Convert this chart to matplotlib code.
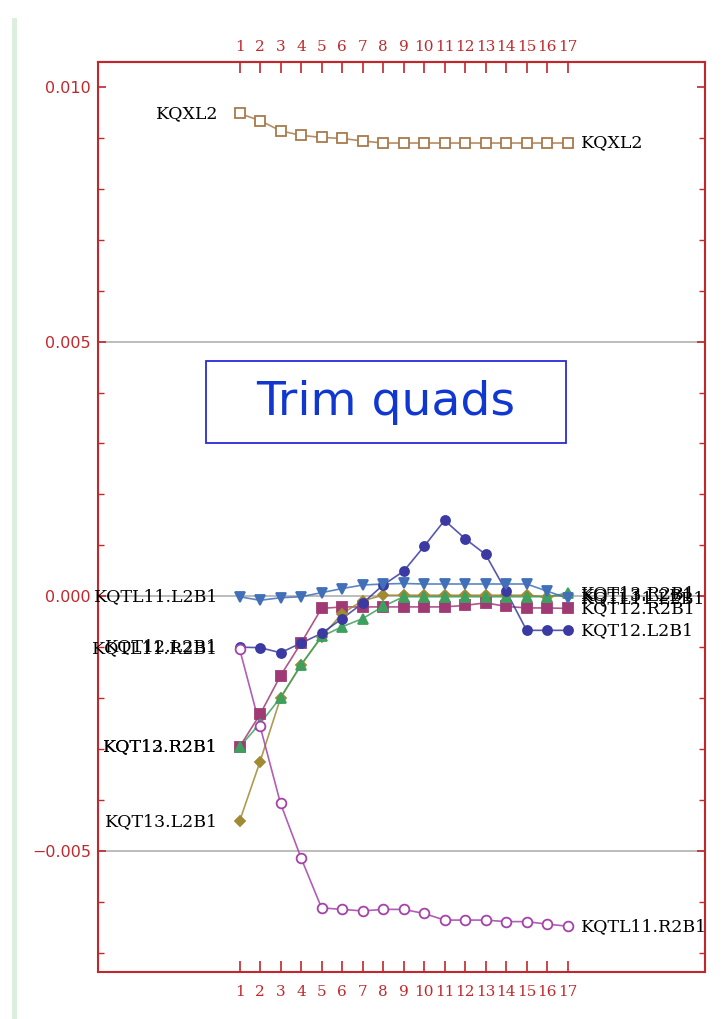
import matplotlib.pyplot as plt
import matplotlib.patches as mpatches
from matplotlib.ticker import MultipleLocator, FixedLocator

# iteration steps
steps = list(range(1, 18))

# quad strengths per step
kqxl2 = [0.00948, 0.00934, 0.00914, 0.00905, 0.00901, 0.00899, 0.00894, 0.00890, 0.00890,
         0.00890, 0.00890, 0.00890, 0.00890, 0.00890, 0.00890, 0.00890, 0.00890]
kqt12_r2b1 = [-0.00296, -0.00232, -0.00156, -0.00092, -0.00024, -0.00021, -0.00021, -0.00021, -0.00021,
              -0.00021, -0.00021, -0.00018, -0.00013, -0.00020, -0.00023, -0.00023, -0.00024]
kqt13_l2b1 = [-0.00442, -0.00325, -0.00200, -0.00135, -0.00080, -0.00034, -0.00009, 0.00002, 0.00002,
              0.00002, 0.00002, 0.00002, 0.00002, 0.00002, 0.00002, -0.00001, 0.00002]
kqt13_r2b1 = [-0.00296, -0.00250, -0.00199, -0.00135, -0.00079, -0.00060, -0.00044, -0.00020, -0.00001,
              -0.00001, -0.00001, -0.00001, -0.00001, -0.00001, -0.00001, -0.00001, 0.00006]
kqt12_l2b1 = [-0.00100, -0.00101, -0.00111, -0.00092, -0.00073, -0.00044, -0.00014, 0.00022, 0.00049,
              0.00098, 0.00149, 0.00113, 0.00082, 0.00010, -0.00067, -0.00067, -0.00067]
kqtl11_l2b1 = [-0.00001, -0.00008, -0.00003, -0.00001, 0.00007, 0.00015, 0.00022, 0.00024, 0.00025,
               0.00024, 0.00024, 0.00024, 0.00024, 0.00024, 0.00024, 0.00010, -0.00004]
kqtl11_r2b1 = [-0.00103, -0.00255, -0.00407, -0.00514, -0.00612, -0.00615, -0.00618, -0.00615, -0.00615,
               -0.00623, -0.00636, -0.00636, -0.00636, -0.00639, -0.00639, -0.00644, -0.00648]

series = [
    ("KQXL2", kqxl2, "#a87a4c", "s", True, 6.5),
    ("KQT12.R2B1", kqt12_r2b1, "#a03a74", "s", False, 6.5),
    ("KQT13.L2B1", kqt13_l2b1, "#a08a34", "D", False, 5.5),
    ("KQT13.R2B1", kqt13_r2b1, "#3ea05e", "^", False, 7),
    ("KQT12.L2B1", kqt12_l2b1, "#3a3aa2", "o", False, 6.5),
    ("KQTL11.L2B1", kqtl11_l2b1, "#4270b8", "v", False, 7),
    ("KQTL11.R2B1", kqtl11_r2b1, "#a442aa", "o", True, 7),
]

red = "#c0282c"

fig = plt.figure(figsize=(7.24, 10.19), dpi=100)
ax = fig.add_axes([0.1354, 0.0461, 0.8384, 0.893])

# light green bar at the far left
fig.patches.append(mpatches.Rectangle((0.016, 0.0), 0.007, 0.982, transform=fig.transFigure,
                                      fc="#dcefdc", ec="none"))

for y in (0.005, 0.0, -0.005):
    ax.axhline(y, color="#b0b0b0", lw=1.2, zorder=1)

for name, vals, col, mk, hollow, ms in series:
    ax.plot(steps, vals, color=col, lw=1.2, alpha=0.85, zorder=2)
    ax.plot(steps, vals, ls="none", marker=mk, ms=ms, mec=col, mew=1.3,
            mfc="white" if hollow else col, zorder=3)
    ax.text(steps[0] - 1.05, vals[0], name, ha="right", va="center",
            family="DejaVu Serif", fontsize=12.5, color="black", zorder=4)
    ax.text(steps[-1] + 0.65, vals[-1], name, ha="left", va="center",
            family="DejaVu Serif", fontsize=12.5, color="black", zorder=4)

ax.set_xlim(-5.9, 23.7)
ax.set_ylim(-0.00738, 0.01049)

ax.xaxis.set_major_locator(FixedLocator(steps))
ax.set_xticklabels([str(s) for s in steps], family="DejaVu Serif", fontsize=11, color=red)
ax.yaxis.set_major_locator(FixedLocator([-0.005, 0.0, 0.005, 0.010]))
ax.set_yticklabels(["\u22120.005", "0.000", "0.005", "0.010"], family="DejaVu Sans", fontsize=11.5, color=red)
ax.yaxis.set_minor_locator(MultipleLocator(0.001))

ax.tick_params(axis="x", which="major", direction="in", length=8, width=1.2, color=red,
               top=True, labeltop=False, bottom=True, labelbottom=True, pad=9)
ax.tick_params(axis="y", which="major", direction="in", length=6, width=1.2, color=red,
               left=True, right=True, pad=5)
ax.tick_params(axis="y", which="minor", direction="in", length=4, width=1.0, color=red,
               left=True, right=True)

# top tick labels
top = ax.secondary_xaxis("top")
top.set_xticks(steps)
top.set_xticklabels([str(s) for s in steps], family="DejaVu Serif", fontsize=11, color=red)
top.tick_params(axis="x", direction="in", length=0, pad=6)
top.spines["top"].set_color(red)
top.spines["top"].set_linewidth(1.5)

for sp in ax.spines.values():
    sp.set_color(red)
    sp.set_linewidth(1.5)

# title box
ax.add_patch(mpatches.Rectangle((0.178, 0.581), 0.593, 0.091, transform=ax.transAxes,
                                fc="white", ec="#2a2ad8", lw=1.3, zorder=5))
ax.text(0.4745, 0.626, "Trim quads", transform=ax.transAxes, ha="center", va="center",
        fontsize=34, color="#1038d0", family="DejaVu Sans", zorder=6)

plt.savefig("out.png", dpi=100)
plt.close()
